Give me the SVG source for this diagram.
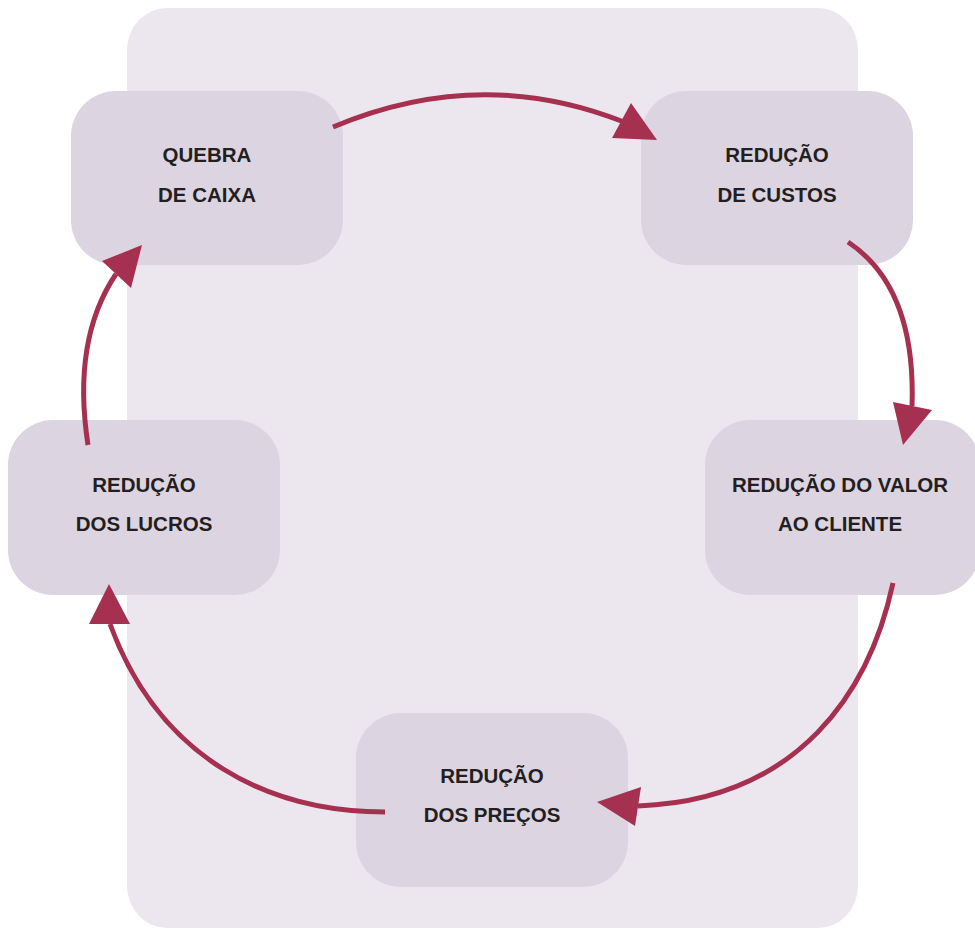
<svg xmlns="http://www.w3.org/2000/svg" width="975" height="928" viewBox="0 0 975 928">
<style>
.node{fill:#dcd4e1}
.lbl{font-family:"Liberation Sans",Arial,sans-serif;font-weight:bold;font-size:20.5px;fill:#231f20;text-anchor:middle}
.con{fill:none;stroke:#a6304f;stroke-width:5}
.head{fill:#a6304f}
</style>
<rect x="127" y="8" width="731" height="920" rx="40" ry="42" fill="#ece7ef"/>
<g id="n-quebra"><rect class="node" x="71" y="91" width="272" height="174" rx="45"/><text class="lbl" x="207" y="162">QUEBRA</text><text class="lbl" x="207" y="202">DE CAIXA</text></g>
<g id="n-custos"><rect class="node" x="641" y="91" width="272" height="174" rx="45"/><text class="lbl" x="777" y="162">REDUÇÃO</text><text class="lbl" x="777" y="202">DE CUSTOS</text></g>
<g id="n-valor"><rect class="node" x="705" y="420" width="275" height="175" rx="45"/><text class="lbl" x="840" y="492">REDUÇÃO DO VALOR</text><text class="lbl" x="840" y="531">AO CLIENTE</text></g>
<g id="n-lucros"><rect class="node" x="8" y="420" width="272" height="175" rx="45"/><text class="lbl" x="144" y="492">REDUÇÃO</text><text class="lbl" x="144" y="531">DOS LUCROS</text></g>
<g id="n-precos"><rect class="node" x="356" y="713" width="272" height="174" rx="45"/><text class="lbl" x="492" y="783">REDUÇÃO</text><text class="lbl" x="492" y="822">DOS PREÇOS</text></g>
<g id="connectors">
<path class="con" d="M333,127 Q480,65 624,122"/>
<polygon class="head" points="612,138 631,103 657,140"/>
<path class="con" d="M848,242 C890,270 915,320 912,406"/>
<polygon class="head" points="893,402 932,410 903,445"/>
<path class="con" d="M893,583 C870,690 800,800 638,806"/>
<polygon class="head" points="641,787 635,826 597,802"/>
<path class="con" d="M385,812 C270,812 160,760 110,624"/>
<polygon class="head" points="89,624 130,624 109,584"/>
<path class="con" d="M88,445 C78,380 85,320 116,274"/>
<polygon class="head" points="102,261 131,288 142,245"/>
</g>
</svg>
